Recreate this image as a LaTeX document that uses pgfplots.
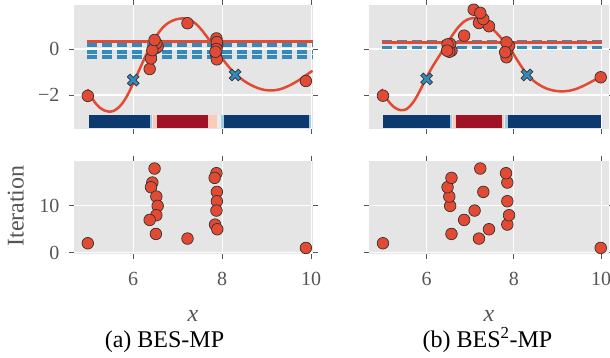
\documentclass[border=0pt]{standalone}
\usepackage{fontspec}
\setmainfont{Liberation Serif}
\usepackage{pgfplots}
\pgfplotsset{compat=1.18}
\definecolor{bg}{HTML}{E5E5E5}
\definecolor{ggred}{HTML}{E24A33}
\definecolor{ggblue}{HTML}{348ABD}
\definecolor{hdblue}{RGB}{12,58,110}
\definecolor{hdred}{RGB}{160,18,40}
\definecolor{hpink}{RGB}{250,203,182}
\definecolor{hlblue}{RGB}{160,205,228}
\definecolor{hwhite}{RGB}{236,234,234}
\definecolor{tickgray}{HTML}{555555}
\definecolor{edge}{HTML}{333333}

\pgfdeclareplotmark{fatx}{%
  \pgftransformrotate{45}%
  \pgfpathmoveto{\pgfpoint{0.3\pgfplotmarksize}{0.3\pgfplotmarksize}}%
  \pgfpathlineto{\pgfpoint{0.3\pgfplotmarksize}{\pgfplotmarksize}}%
  \pgfpathlineto{\pgfpoint{-0.3\pgfplotmarksize}{\pgfplotmarksize}}%
  \pgfpathlineto{\pgfpoint{-0.3\pgfplotmarksize}{0.3\pgfplotmarksize}}%
  \pgfpathlineto{\pgfpoint{-\pgfplotmarksize}{0.3\pgfplotmarksize}}%
  \pgfpathlineto{\pgfpoint{-\pgfplotmarksize}{-0.3\pgfplotmarksize}}%
  \pgfpathlineto{\pgfpoint{-0.3\pgfplotmarksize}{-0.3\pgfplotmarksize}}%
  \pgfpathlineto{\pgfpoint{-0.3\pgfplotmarksize}{-\pgfplotmarksize}}%
  \pgfpathlineto{\pgfpoint{0.3\pgfplotmarksize}{-\pgfplotmarksize}}%
  \pgfpathlineto{\pgfpoint{0.3\pgfplotmarksize}{-0.3\pgfplotmarksize}}%
  \pgfpathlineto{\pgfpoint{\pgfplotmarksize}{-0.3\pgfplotmarksize}}%
  \pgfpathlineto{\pgfpoint{\pgfplotmarksize}{0.3\pgfplotmarksize}}%
  \pgfpathclose
  \pgfusepathqfillstroke
}

\pgfplotsset{
  ggstyle/.style={
    scale only axis,
    axis background/.style={fill=bg},
    axis line style={draw=none},
    grid=major,
    major grid style={white, line width=1.2pt},
    tick align=outside,
    major tick length=5pt,
    tick style={tickgray, line width=0.9pt},
    ticklabel style={font=\fontsize{20}{20}\selectfont, text=tickgray},
    xticklabel style={yshift=-10pt},
    yticklabel style={xshift=-6pt},
    /pgf/number format/assume math mode=true,
    xtick={6,8,10},
    clip=false,
  },
  dots/.style={only marks, mark=*, mark size=5.8pt,
    mark options={fill=ggred, draw=edge, line width=0.7pt}},
  crosses/.style={only marks, mark=fatx, mark size=6.4pt,
    mark options={fill=ggblue, draw=edge, line width=0.7pt}},
  gpline/.style={ggred, line width=2.5pt, no marks},
  hred/.style={ggred, line width=2.8pt, no marks},
  hblue/.style={ggblue, line width=3.6pt, no marks, dash pattern=on 10pt off 5pt},
  heat/.style={draw=none, no marks, forget plot},
}

\begin{document}
\begin{tikzpicture}
\path[use as bounding box] (0,0) rectangle (610pt,358pt);

%================ (a) top =================
\begin{axis}[ggstyle, at={(74pt,228.5pt)}, anchor=south west,
  width=239pt, height=124.2pt,
  xmin=4.67, xmax=10.04, ymin=-3.5, ymax=1.9,
  ytick={-2,0}, yticklabels={−2,0}, xticklabels={}]
% heat bar
\addplot[heat, fill=hdblue] coordinates {(5.0,-2.87) (6.38,-2.87) (6.38,-3.45) (5.0,-3.45)} --cycle;
\addplot[heat, fill=hlblue] coordinates {(6.38,-2.87) (6.42,-2.87) (6.42,-3.45) (6.38,-3.45)} --cycle;
\addplot[heat, fill=hwhite] coordinates {(6.42,-2.87) (6.45,-2.87) (6.45,-3.45) (6.42,-3.45)} --cycle;
\addplot[heat, fill=hpink] coordinates {(6.45,-2.87) (6.53,-2.87) (6.53,-3.45) (6.45,-3.45)} --cycle;
\addplot[heat, fill=hdred] coordinates {(6.53,-2.87) (7.69,-2.87) (7.69,-3.45) (6.53,-3.45)} --cycle;
\addplot[heat, fill=hpink] coordinates {(7.69,-2.87) (7.88,-2.87) (7.88,-3.45) (7.69,-3.45)} --cycle;
\addplot[heat, fill=hwhite] coordinates {(7.88,-2.87) (7.97,-2.87) (7.97,-3.45) (7.88,-3.45)} --cycle;
\addplot[heat, fill=hlblue] coordinates {(7.97,-2.87) (8.04,-2.87) (8.04,-3.45) (7.97,-3.45)} --cycle;
\addplot[heat, fill=hdblue] coordinates {(8.04,-2.87) (9.96,-2.87) (9.96,-3.45) (8.04,-3.45)} --cycle;
\addplot[heat, fill=hlblue] coordinates {(9.96,-2.87) (9.99,-2.87) (9.99,-3.45) (9.96,-3.45)} --cycle;
% horizontal lines
\addplot[hblue] coordinates {(4.97,0.17) (10.03,0.17)};
\addplot[hblue] coordinates {(4.97,-0.12) (10.03,-0.12)};
\addplot[hblue] coordinates {(4.97,-0.34) (10.03,-0.34)};
\addplot[hred] coordinates {(4.97,0.32) (10.03,0.32)};
% GP mean
\addplot[gpline, smooth] coordinates {
(4.97,-1.75) (5.05,-2.05) (5.15,-2.35) (5.25,-2.55) (5.35,-2.67) (5.45,-2.72)
(5.55,-2.70) (5.65,-2.58) (5.75,-2.38) (5.85,-2.08) (5.95,-1.70) (6.05,-1.28)
(6.15,-0.85) (6.25,-0.42) (6.35,-0.02) (6.45,0.35) (6.55,0.65) (6.65,0.90)
(6.75,1.08) (6.85,1.20) (6.95,1.28) (7.05,1.32) (7.15,1.33) (7.25,1.28)
(7.35,1.18) (7.45,1.02) (7.55,0.80) (7.65,0.55) (7.75,0.28) (7.85,0.00)
(7.95,-0.27) (8.05,-0.54) (8.15,-0.78) (8.25,-1.00) (8.35,-1.18) (8.45,-1.33)
(8.55,-1.46) (8.65,-1.57) (8.75,-1.66) (8.85,-1.73) (8.95,-1.78) (9.05,-1.80)
(9.15,-1.80) (9.25,-1.77) (9.35,-1.72) (9.45,-1.64) (9.55,-1.55) (9.65,-1.44)
(9.75,-1.32) (9.85,-1.18) (9.95,-1.05) (10.03,-0.95)};
% observations
\addplot[dots] coordinates {
(9.88,-1.39) (4.98,-2.04) (7.22,1.12)
(6.51,0.15) (6.37,-0.87) (6.52,0.05) (6.55,0.10) (6.52,0.25) (6.40,-0.41) (6.43,-0.05) (6.48,0.39)
(7.87,0.46) (7.89,0.17) (7.86,-0.22) (7.88,-0.45) (7.88,0.30) (7.87,0.00) (7.85,-0.12)};
\addplot[crosses] coordinates {(6.0,-1.35) (8.29,-1.13)};
\end{axis}

%================ (a) bottom =================
\begin{axis}[ggstyle, at={(74pt,104pt)}, anchor=south west,
  width=239pt, height=93.4pt,
  xmin=4.67, xmax=10.04, ymin=-0.3, ymax=19.7,
  ytick={0,10}]
\addplot[dots] coordinates {
(4.98,2) (6.48,18) (6.43,15) (6.40,14) (6.52,12) (6.55,10) (6.52,8) (6.37,7)
(6.51,4) (7.22,3) (7.87,17) (7.83,16) (7.88,13) (7.88,11) (7.87,9) (7.84,6)
(7.89,5) (9.88,1)};
\end{axis}

%================ (b) top =================
\begin{axis}[ggstyle, at={(369pt,228.5pt)}, anchor=south west,
  width=240pt, height=124.2pt,
  xmin=4.68, xmax=10.18, ymin=-3.5, ymax=1.9,
  ytick={-2,0}, yticklabels={}, xticklabels={}]
\addplot[heat, fill=hdblue] coordinates {(5.0,-2.87) (6.53,-2.87) (6.53,-3.45) (5.0,-3.45)} --cycle;
\addplot[heat, fill=hlblue] coordinates {(6.53,-2.87) (6.58,-2.87) (6.58,-3.45) (6.53,-3.45)} --cycle;
\addplot[heat, fill=hwhite] coordinates {(6.58,-2.87) (6.61,-2.87) (6.61,-3.45) (6.58,-3.45)} --cycle;
\addplot[heat, fill=hpink] coordinates {(6.61,-2.87) (6.68,-2.87) (6.68,-3.45) (6.61,-3.45)} --cycle;
\addplot[heat, fill=hdred] coordinates {(6.68,-2.87) (7.72,-2.87) (7.72,-3.45) (6.68,-3.45)} --cycle;
\addplot[heat, fill=hpink] coordinates {(7.72,-2.87) (7.78,-2.87) (7.78,-3.45) (7.72,-3.45)} --cycle;
\addplot[heat, fill=hwhite] coordinates {(7.78,-2.87) (7.80,-2.87) (7.80,-3.45) (7.78,-3.45)} --cycle;
\addplot[heat, fill=hlblue] coordinates {(7.80,-2.87) (7.86,-2.87) (7.86,-3.45) (7.80,-3.45)} --cycle;
\addplot[heat, fill=hdblue] coordinates {(7.86,-2.87) (10.0,-2.87) (10.0,-3.45) (7.86,-3.45)} --cycle;
\addplot[hblue] coordinates {(4.97,0.30) (10.02,0.30)};
\addplot[hblue] coordinates {(4.97,0.07) (10.02,0.07)};
\addplot[hred] coordinates {(4.97,0.27) (10.02,0.27)};
\addplot[gpline, smooth] coordinates {
(4.97,-1.74) (5.05,-2.05) (5.15,-2.33) (5.25,-2.52) (5.35,-2.63) (5.45,-2.66)
(5.55,-2.60) (5.65,-2.42) (5.75,-2.15) (5.85,-1.80) (5.95,-1.42) (6.05,-1.05)
(6.15,-0.72) (6.25,-0.42) (6.35,-0.12) (6.45,0.18) (6.55,0.48) (6.65,0.76)
(6.75,1.00) (6.85,1.18) (6.95,1.29) (7.05,1.34) (7.15,1.33) (7.25,1.26)
(7.35,1.14) (7.45,0.98) (7.55,0.80) (7.65,0.60) (7.75,0.38) (7.85,0.14)
(7.95,-0.10) (8.05,-0.40) (8.15,-0.70) (8.25,-0.98) (8.35,-1.20) (8.45,-1.38)
(8.55,-1.52) (8.65,-1.63) (8.75,-1.72) (8.85,-1.78) (8.95,-1.82) (9.05,-1.84)
(9.15,-1.84) (9.25,-1.82) (9.35,-1.78) (9.45,-1.72) (9.55,-1.64) (9.65,-1.55)
(9.75,-1.45) (9.85,-1.35) (9.95,-1.27) (10.01,-1.23)};
\addplot[dots] coordinates {
(9.99,-1.23) (5.0,-2.03) (7.20,1.13) (6.57,-0.07) (7.43,0.99) (7.85,-0.05)
(6.86,0.58) (7.89,0.14) (7.08,1.71) (6.54,0.22) (7.83,0.29) (6.52,-0.12)
(7.30,1.30) (6.48,0.20) (7.83,-0.36) (6.47,-0.07) (7.80,-0.14) (7.23,1.57)};
\addplot[crosses] coordinates {(6.0,-1.30) (8.30,-1.13)};
\end{axis}

%================ (b) bottom =================
\begin{axis}[ggstyle, at={(369pt,104pt)}, anchor=south west,
  width=240pt, height=93.4pt,
  xmin=4.68, xmax=10.18, ymin=-0.3, ymax=19.7,
  ytick={0,10}, yticklabels={}]
\addplot[dots] coordinates {
(9.99,1) (5.0,2) (7.20,3) (6.57,4) (7.43,5) (7.85,6) (6.86,7) (7.89,8)
(7.10,9) (6.54,10) (7.85,11) (6.52,12) (7.30,13) (6.48,14) (7.85,15)
(6.57,16) (7.82,17) (7.23,18)};
\end{axis}

% labels and captions
\node[rotate=90, anchor=base, text=tickgray, font=\fontsize{24}{24}\selectfont] at (23.5pt,152pt) {Iteration};
\node[anchor=base, text=tickgray, font=\fontsize{24}{24}\selectfont] at (193pt,36pt) {\textit{x}};
\node[anchor=base, text=tickgray, font=\fontsize{24}{24}\selectfont] at (489pt,36pt) {\textit{x}};
\node[anchor=base, font=\fontsize{24}{24}\selectfont] at (164.5pt,10.3pt) {(a) BES-MP};
\node[anchor=base, font=\fontsize{24}{24}\selectfont] at (487.5pt,10.3pt) {(b) BES\textsuperscript{2}-MP};
\end{tikzpicture}
\end{document}
